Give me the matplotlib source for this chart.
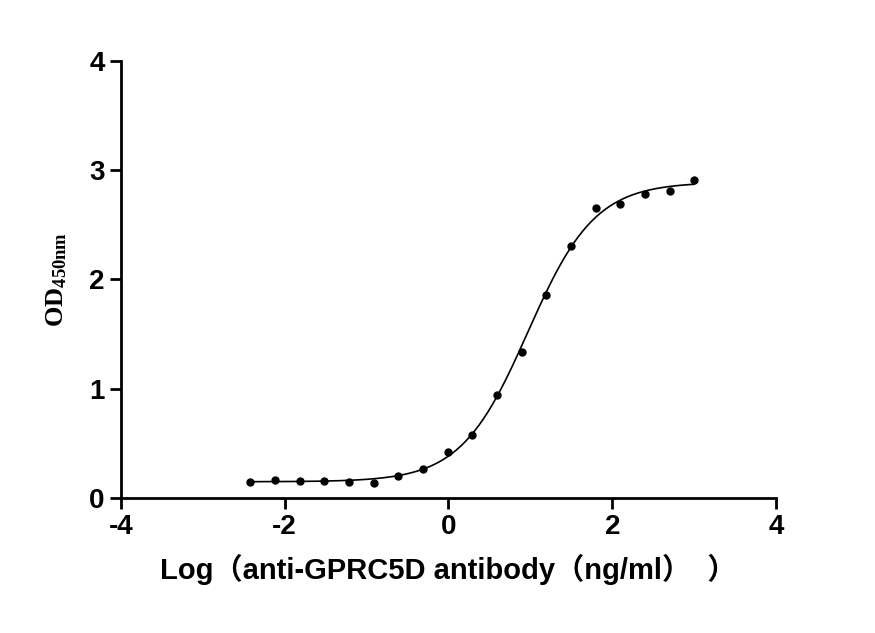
import numpy as np
import matplotlib.pyplot as plt

plt.rcParams['mathtext.fontset'] = 'custom'
plt.rcParams['mathtext.bf'] = 'Liberation Serif:bold'
plt.rcParams['mathtext.rm'] = 'Liberation Serif:bold'
plt.rcParams['axes.unicode_minus'] = False

# doubling dilutions, log10(ng/ml)
log_conc = 3 - np.log10(2) * np.arange(18, -1, -1)
od = [0.15, 0.17, 0.16, 0.16, 0.15, 0.14, 0.20, 0.27, 0.42, 0.58,
      0.94, 1.34, 1.86, 2.31, 2.65, 2.69, 2.78, 2.81, 2.91]
od = np.array(od)

# 4PL fit by coarse grid search
def fourpl(x, b, t, ec, h):
    return b + (t - b) / (1 + 10 ** ((ec - x) * h))

best = None
for b in np.linspace(0.10, 0.20, 11):
    for t in np.linspace(2.75, 3.0, 26):
        for ec in np.linspace(0.8, 1.1, 31):
            for h in np.linspace(0.8, 1.5, 36):
                err = np.sum((fourpl(log_conc, b, t, ec, h) - od) ** 2)
                if best is None or err < best[0]:
                    best = (err, b, t, ec, h)
_, b, t, ec, h = best
xs = np.linspace(log_conc[0], log_conc[-1], 300)

fig = plt.figure(figsize=(8.75, 6.33), dpi=100)
ax = fig.add_axes([0.138, 0.213, 0.749, 0.691])
ax.plot(xs, fourpl(xs, b, t, ec, h), color='black', lw=1.2)
ax.plot(log_conc, od, 'o', color='black', ms=5)

ax.set_xlim(-4, 4)
ax.set_ylim(0, 4)
ax.set_xticks([-4, -2, 0, 2, 4])
ax.set_yticks([0, 1, 2, 3, 4])
for s in ['top', 'right']:
    ax.spines[s].set_visible(False)
for s in ['left', 'bottom']:
    ax.spines[s].set_linewidth(2)
ax.tick_params(width=2, length=8, labelsize=20)
for lab in ax.get_xticklabels() + ax.get_yticklabels():
    lab.set_fontweight('bold')
    lab.set_family('Liberation Sans')

ax.set_xlabel('Log（anti-GPRC5D antibody（ng/ml）  ）', fontsize=21, fontweight='bold',
              family=['Liberation Sans', 'Noto Sans CJK SC'], labelpad=10)
ax.set_ylabel(r'$\mathbf{OD_{450nm}}$', fontsize=19, labelpad=14)

fig.savefig('out.png')
